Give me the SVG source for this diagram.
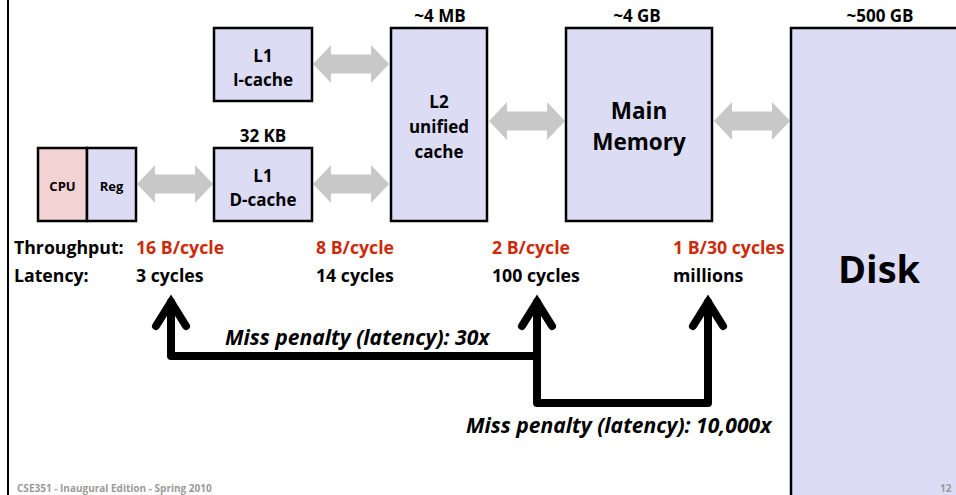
<svg xmlns="http://www.w3.org/2000/svg" width="956" height="495" viewBox="0 0 956 495">
<defs>
<style>
.box{fill:#dcdcf4;stroke:#000;stroke-width:2.5}
.cpu{fill:#f2d2d2;stroke:#000;stroke-width:2.5}
.t{font-family:"Open Sans","Liberation Sans",sans-serif;font-weight:bold;fill:#000}
.c{text-anchor:middle}
.red{fill:#cc2a0a}
.conn{fill:#c8c8c8}
.blk{fill:none;stroke:#000;stroke-width:8;stroke-linejoin:round;stroke-linecap:round}
.head{fill:none;stroke:#000;stroke-width:8;stroke-linejoin:miter;stroke-miterlimit:10;stroke-linecap:round}
.foot{font-family:"Open Sans","Liberation Sans",sans-serif;font-weight:bold;fill:#9a9a9a;font-size:10px}
.m{font-size:17px}
.r{font-size:17.7px}
.i{font-size:21.1px;font-style:italic}
</style>
<path id="dbl" d="M0,0 L18,-19 L18,-9.5 L58,-9.5 L58,-19 L76,0 L58,19 L58,9.5 L18,9.5 L18,19 Z"/>
</defs>
<rect x="0" y="0" width="956" height="495" fill="#fff"/>
<line x1="8" y1="0" x2="8" y2="495" stroke="#000" stroke-width="2"/>

<g id="connectors">
<use href="#dbl" class="conn" transform="translate(137,184)"/>
<use href="#dbl" class="conn" transform="translate(313,64)"/>
<use href="#dbl" class="conn" transform="translate(313,184)"/>
<use href="#dbl" class="conn" transform="translate(489,121)"/>
<use href="#dbl" class="conn" transform="translate(714,121)"/>
<path class="blk" d="M171,302 L171,356 L537,356"/>
<path class="blk" d="M537,302 L537,403 L708,403 L708,302"/>
<polyline class="head" points="156,326 171,302 186,326"/>
<polyline class="head" points="522,326 537,302 552,326"/>
<polyline class="head" points="693,326 708,302 723,326"/>
</g>

<g id="cpu">
<rect class="cpu" x="38" y="148" width="49" height="73"/>
<text class="t c" x="62.5" y="191" font-size="13">CPU</text>
</g>
<g id="reg">
<rect class="box" x="87" y="148" width="49" height="73"/>
<text class="t c" x="111.5" y="191" font-size="13">Reg</text>
</g>
<g id="l1i">
<rect class="box" x="214" y="28" width="98" height="73"/>
<text class="t c m" x="263" y="62">L1</text>
<text class="t c m" x="263" y="86">I-cache</text>
</g>
<g id="l1d">
<text class="t c m" x="263" y="142">32 KB</text>
<rect class="box" x="214" y="148" width="98" height="73"/>
<text class="t c m" x="263" y="182">L1</text>
<text class="t c m" x="263" y="206">D-cache</text>
</g>
<g id="l2">
<text class="t c m" x="440" y="22">~4 MB</text>
<rect class="box" x="391" y="28" width="96" height="193"/>
<text class="t c m" x="439" y="108">L2</text>
<text class="t c m" x="439" y="133">unified</text>
<text class="t c m" x="439" y="158">cache</text>
</g>
<g id="mainmem">
<text class="t c m" x="637" y="22">~4 GB</text>
<rect class="box" x="566" y="28" width="146" height="193"/>
<text class="t c" x="639" y="119" font-size="22.5">Main</text>
<text class="t c" x="639" y="150" font-size="22.5">Memory</text>
</g>
<g id="disk">
<text class="t c m" x="880" y="22">~500 GB</text>
<rect class="box" x="791" y="28" width="180" height="480"/>
<text class="t c" x="879" y="283" font-size="38">Disk</text>
</g>

<g id="labels">
<text class="t r" x="14" y="254">Throughput:</text>
<text class="t r" x="14" y="282">Latency:</text>
<text class="t r red" x="136" y="254">16 B/cycle</text>
<text class="t r red" x="316" y="254">8 B/cycle</text>
<text class="t r red" x="492" y="254">2 B/cycle</text>
<text class="t r red" x="673" y="254">1 B/30 cycles</text>
<text class="t r" x="136" y="282">3 cycles</text>
<text class="t r" x="316" y="282">14 cycles</text>
<text class="t r" x="492" y="282">100 cycles</text>
<text class="t r" x="673" y="282">millions</text>
<text class="t i" x="225" y="345">Miss penalty (latency): 30x</text>
<text class="t i" x="466" y="433">Miss penalty (latency): 10,000x</text>
</g>
<text class="foot" x="17" y="492">CSE351 - Inaugural Edition - Spring 2010</text>
<text class="foot" x="940" y="492">12</text>
</svg>
